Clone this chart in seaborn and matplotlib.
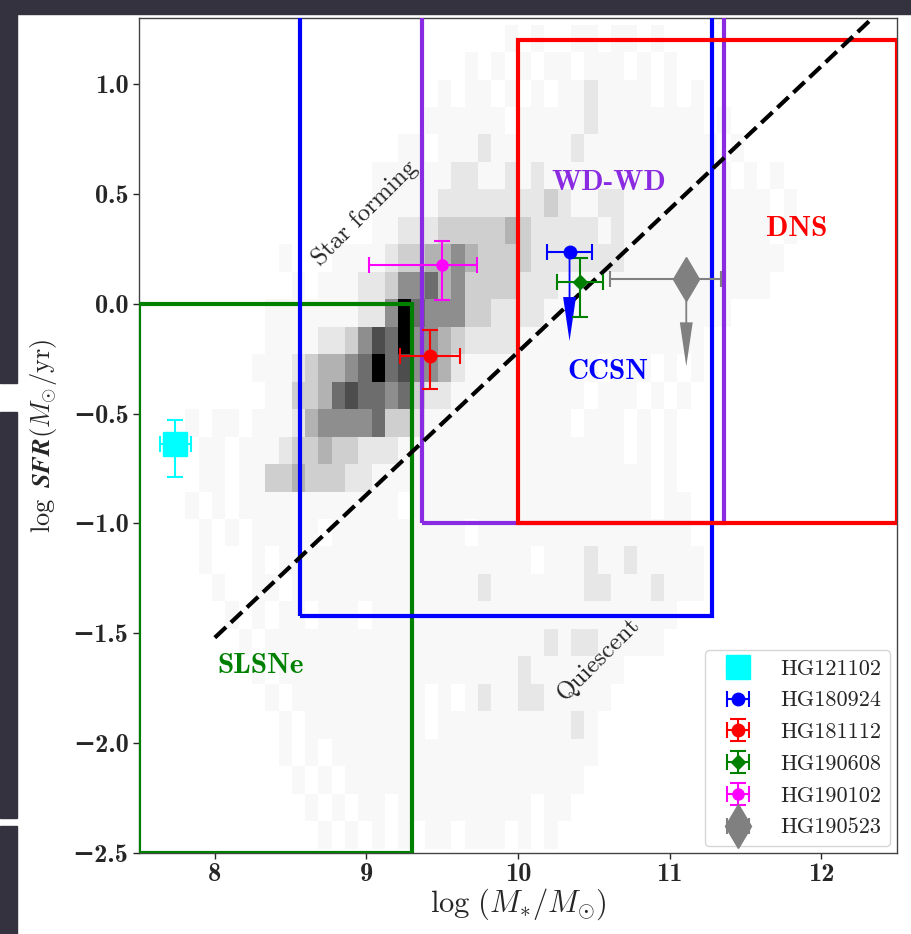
import numpy as np
import pandas as pd
import matplotlib
matplotlib.use("Agg")
import matplotlib.pyplot as plt
import seaborn as sns
from matplotlib.patches import Rectangle

# ---------------------------------------------------------------------------
# Field-galaxy density.
# One string per SFR row, top row first; one digit per stellar-mass bin
# (0 = empty, 9 = darkest). Spaces are only for readability.
# ---------------------------------------------------------------------------
density_rows = [
    "00000 00000 00000 00000 00000 01010 01101 10100 00000 00000 00000",
    "00000 00000 00000 00000 00010 10101 10111 01010 00000 00000 00000",
    "00000 00000 00000 00000 01011 01010 11211 11010 10000 00000 00000",
    "00000 00000 00000 00000 11111 10111 11211 11111 10100 00000 00000",
    "00000 00000 00000 00011 01112 11111 12111 11111 11010 00000 00000",
    "00000 00000 00000 01111 11221 12121 11111 11111 11101 01000 00000",
    "00000 00000 00000 01111 12222 22223 21122 11111 11111 10100 00000",
    "00000 00000 00000 01122 23333 34322 22212 11111 11111 10100 00000",
    "00000 00001 00011 11233 44543 33322 22222 11111 11111 11000 00000",
    "00000 00000 10111 22355 64533 33222 11111 11111 11111 10000 00000",
    "00000 00011 11111 22596 55533 22221 11111 11111 11100 00000 00000",
    "00000 00011 11223 57695 54322 22111 11111 11111 10000 00000 00000",
    "00000 00111 23445 69675 54211 11111 11101 11010 10000 00000 00000",
    "00000 00011 33467 66563 22111 11111 11011 10101 00000 00000 00000",
    "00101 10111 24555 56332 11111 11111 10111 01010 00000 00000 00000",
    "00011 01112 33433 22211 11111 11111 11111 01010 00000 00000 00000",
    "00011 01133 43332 21111 11111 11111 11111 11010 00000 00000 00000",
    "00101 01111 11111 11101 11111 11111 11111 11011 00000 00000 00000",
    "00010 10111 11011 11111 11101 11111 11111 11111 00000 00000 00000",
    "00010 00101 11111 11111 11111 11101 11211 21111 10000 00000 00000",
    "00001 00110 11111 11111 11112 11111 11221 11211 10000 00000 00000",
    "00000 10101 10111 01111 11111 11111 11111 11110 00000 00000 00000",
    "00000 01011 11111 11111 11111 11112 12211 11100 00000 00000 00000",
    "00000 00101 11111 11111 11111 11211 11111 00000 00000 00000 00000",
    "00000 00010 11111 11111 01012 11221 11110 00000 00000 00000 00000",
    "00000 00001 01111 11111 01111 11111 12100 00000 00000 00000 00000",
    "00000 00001 01011 11111 11111 11111 11100 00000 00000 00000 00000",
    "00000 00000 10101 11111 11111 11111 11000 00000 00000 00000 00000",
    "00000 00000 01010 11011 11111 11101 10000 00000 00000 00000 00000",
    "00000 00000 00101 01010 11011 10101 00000 00000 00000 00000 00000",
]
bin_x0 = 7.631      # left edge of first mass bin
bin_dx = 0.0877     # mass bin width (dex)
bin_y_top = 1.27    # top edge of first SFR bin
bin_dy = 0.125      # SFR bin width (dex)

# ---------------------------------------------------------------------------
# Progenitor regions
# ---------------------------------------------------------------------------
box_labels = ["SLSNe", "CCSN", "WD-WD", "DNS"]
box_xlo = [7.5, 8.56, 9.37, 10.0]
box_xhi = [9.30, 11.28, 11.36, 12.5]
box_ylo = [-2.5, -1.42, -1.0, -1.0]
box_yhi = [0.0, 2.0, 2.0, 1.2]
box_colors = ["green", "blue", "blueviolet", "red"]

# star-forming / quiescent divider
div_x = [8.0, 12.5]
div_y = [-1.52, 1.405]

# ---------------------------------------------------------------------------
# FRB host galaxies
# ---------------------------------------------------------------------------
hosts = ["HG121102", "HG180924", "HG181112", "HG190608", "HG190102", "HG190523"]
host_logm = [7.74, 10.34, 9.42, 10.41, 9.50, 11.11]
host_logsfr = [-0.64, 0.235, -0.24, 0.10, 0.175, 0.11]
host_xerr_lo = [0.10, 0.15, 0.20, 0.15, 0.48, 0.50]
host_xerr_hi = [0.10, 0.15, 0.20, 0.15, 0.23, 0.23]
host_yerr_lo = [0.15, 0.0, 0.15, 0.16, 0.16, 0.0]
host_yerr_hi = [0.11, 0.0, 0.12, 0.11, 0.11, 0.0]
host_limit_len = [0.0, 0.405, 0.0, 0.0, 0.0, 0.395]   # SFR upper limits

host_style = {
    "HG121102": dict(color="cyan", marker="s", ms=17),
    "HG180924": dict(color="blue", marker="o", ms=9),
    "HG181112": dict(color="red", marker="o", ms=9),
    "HG190608": dict(color="green", marker="D", ms=7),
    "HG190102": dict(color="magenta", marker="o", ms=8),
    "HG190523": dict(color="grey", marker="d", ms=22),
}

y_ticks = [-2.5, -2.0, -1.5, -1.0, -0.5, 0.0, 0.5, 1.0]
x_ticks = [8, 9, 10, 11, 12]

# ---------------------------------------------------------------------------
sns.set_style("ticks")
plt.rcParams["mathtext.fontset"] = "cm"
plt.rcParams["font.family"] = ["cmr10", "DejaVu Serif"]
plt.rcParams["axes.unicode_minus"] = False

fig = plt.figure(figsize=(9.12, 9.34), dpi=100)
ax = fig.add_axes([139 / 912, 81 / 934, 758 / 912, 835 / 934])

# density grid -> long table of weighted bin centres
cells = []
for r, row in enumerate(density_rows):
    for c, ch in enumerate(row.replace(" ", "")):
        if ch != "0":
            cells.append((bin_x0 + (c + 0.5) * bin_dx,
                          bin_y_top - (r + 0.5) * bin_dy, int(ch)))
grid = pd.DataFrame(cells, columns=["logm", "logsfr", "w"])
n_x = len(density_rows[0].replace(" ", ""))
x_edges = bin_x0 + bin_dx * np.arange(n_x + 1)
y_edges = bin_y_top - bin_dy * np.arange(len(density_rows) + 1)[::-1]
sns.histplot(data=grid, x="logm", y="logsfr", weights="w",
             bins=[x_edges, y_edges], cmap="Greys", vmin=0.5, vmax=9, ax=ax)

for xlo, xhi, ylo, yhi, col in zip(box_xlo, box_xhi, box_ylo, box_yhi, box_colors):
    ax.add_patch(Rectangle((xlo, ylo), xhi - xlo, yhi - ylo, fill=False,
                           edgecolor=col, lw=3, zorder=3))

ax.plot(div_x, div_y, ls="--", color="black", lw=3, zorder=4)

for i, name in enumerate(hosts):
    st = host_style[name]
    yerr = None
    if host_yerr_lo[i] > 0:
        yerr = [[host_yerr_lo[i]], [host_yerr_hi[i]]]
    ax.errorbar([host_logm[i]], [host_logsfr[i]],
                xerr=[[host_xerr_lo[i]], [host_xerr_hi[i]]], yerr=yerr,
                fmt=st["marker"], color=st["color"], ms=st["ms"],
                elinewidth=1.5, capsize=6, capthick=1.5, label=name, zorder=6)
    if host_limit_len[i] > 0:
        ax.arrow(host_logm[i], host_logsfr[i], 0, -host_limit_len[i],
                 width=0.012, head_width=0.085, head_length=0.2,
                 length_includes_head=True, color=st["color"], lw=0, zorder=5)

# region labels
lab = dict(fontsize=21, family="cmb10", ha="center", va="center")
ax.text(8.30, -1.65, "SLSNe", color="green", **lab)
ax.text(10.59, -0.31, "CCSN", color="blue", **lab)
ax.text(10.60, 0.55, "WD-WD", color="blueviolet", **lab)
ax.text(11.84, 0.34, "DNS", color="red", **lab)
ax.text(8.99, 0.41, "Star forming", rotation=45, fontsize=18,
        family="cmr10", ha="center", va="center")
ax.text(10.53, -1.62, "Quiescent", rotation=45, fontsize=18,
        family="cmr10", ha="center", va="center")

ax.set_xlim(7.5, 12.5)
ax.set_ylim(-2.5, 1.3)
ax.set_xticks(x_ticks)
ax.set_yticks(y_ticks)
tick_font = dict(family=["cmb10", "DejaVu Serif"], weight="bold", size=19)
ax.set_xticklabels([str(v) for v in x_ticks], fontdict=tick_font)
ax.set_yticklabels([f"{v:.1f}".replace("-", "\u2212") for v in y_ticks], fontdict=tick_font)
ax.tick_params(length=4, width=1)
ax.set_xlabel(r"$\log\,(M_{*}/M_{\odot})$", fontsize=22, labelpad=0)
ax.set_ylabel(r"$\log\ \mathbfit{SFR}(M_{\odot}/\mathrm{yr})$", fontsize=19)
ax.yaxis.set_label_coords(-0.105, 0.5)
for s in ax.spines.values():
    s.set_color("#444444")
    s.set_linewidth(1)

leg = ax.legend(loc="lower right", fontsize=16, frameon=True, fancybox=True,
                borderaxespad=0.3, handlelength=2.2, labelspacing=0.55,
                handletextpad=0.8)
leg.get_frame().set_edgecolor("#cccccc")

# dark page frame around the screenshot
dark = "#35323f"
fig.patches.append(Rectangle((0, 1 - 14 / 934), 1, 14 / 934, transform=fig.transFigure,
                             color=dark, zorder=10))
fig.patches.append(Rectangle((0, 1 - 383 / 934), 17 / 912, 383 / 934, transform=fig.transFigure,
                             color=dark, zorder=10))
fig.patches.append(Rectangle((0, 1 - 818 / 934), 17 / 912, 406 / 934, transform=fig.transFigure,
                             color=dark, zorder=10))
fig.patches.append(Rectangle((0, 0), 17 / 912, 108 / 934, transform=fig.transFigure,
                             color=dark, zorder=10))

fig.savefig("out.png", dpi=100)
